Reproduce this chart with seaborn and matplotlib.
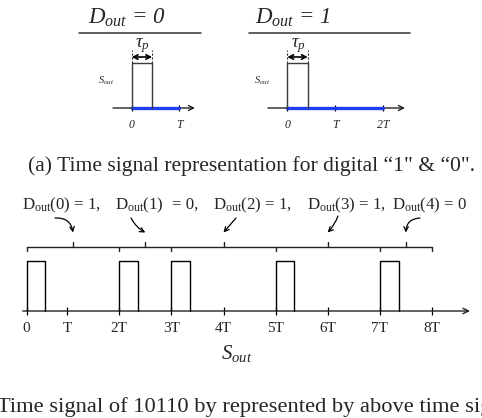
import matplotlib
matplotlib.use('Agg')
import matplotlib.pyplot as plt
import seaborn as sns
import pandas as pd
from matplotlib.lines import Line2D

# ---------------- data ----------------
bits = [1, 0, 1, 1, 0]
pulse_starts = [0.22, 2, 3, 5, 7]            # pulse start times (units of T)
bit_bounds = [0.22, 2, 3, 5, 7, 8]           # bracket boundaries of each bit
pulse_width = 0.36                           # tau_p / T (bottom)
tick_pos = [0.22, 1, 2, 3, 4, 5, 6, 7, 8]
tick_labels = ['0', 'T', '2T', '3T', '4T', '5T', '6T', '7T', '8T']
bit_texts = [r'D$_{\mathrm{out}}$(0) = 1,', r'D$_{\mathrm{out}}$(1)', '= 0,',
             r'D$_{\mathrm{out}}$(2) = 1,', r'D$_{\mathrm{out}}$(3) = 1,',
             r'D$_{\mathrm{out}}$(4) = 0']

top_titles = [r'D$_{out}$ = 0', r'D$_{out}$ = 1']
top_periods = [1, 2]
top_pulse_width = 0.43
top_ticks = [[0, 1], [0, 1, 2]]
top_tick_labels = [['0', 'T'], ['0', 'T', '2T']]

caption_a = '(a) Time signal representation for digital \u201c1" & \u201c0".'
caption_b = 'Time signal of 10110 by represented by above time signal.'

# ---------------- style ----------------
sns.set_theme(style='white')
plt.rcParams['font.family'] = ['Liberation Serif', 'DejaVu Serif']
plt.rcParams['mathtext.fontset'] = 'custom'
plt.rcParams['mathtext.rm'] = 'Liberation Serif'
plt.rcParams['mathtext.it'] = 'Liberation Serif:italic'
plt.rcParams['mathtext.bf'] = 'Liberation Serif:bold'

W, H, DPI = 482, 418, 100
fig = plt.figure(figsize=(W / DPI, H / DPI), dpi=DPI)
fig.patch.set_facecolor('white')


def frect(x0, y0, x1, y1):
    return [x0 / W, 1 - y1 / H, (x1 - x0) / W, (y1 - y0) / H]


def fxy(px, py):
    return px / W, 1 - py / H


def pulse_frame(starts, width):
    rows = []
    for i, s in enumerate(starts):
        for x, y in [(s, 0), (s, 1), (s + width, 1), (s + width, 0)]:
            rows.append({'pulse': i, 'x': x, 'y': y})
    return pd.DataFrame(rows)


def clean(ax):
    for sp in ax.spines.values():
        sp.set_visible(False)
    ax.set_facecolor('none')
    ax.set_yticks([])
    ax.set_ylabel('')
    ax.set_xlabel('')


# ---------------- top panels ----------------
top_geo = [
    dict(rect=(95, 35, 210, 135), x0=131.7, u=47.6, axis_y=108, v=45,
         ax_from=113, ax_to=195, title_x=88, ul=(79, 201), sout_x=106),
    dict(rect=(250, 35, 420, 135), x0=287.3, u=47.7, axis_y=108, v=45,
         ax_from=268, ax_to=405, title_x=255, ul=(249, 410), sout_x=262),
]

for k, g in enumerate(top_geo):
    x0p, y0p, x1p, y1p = g['rect']
    ax = fig.add_axes(frect(*g['rect']))
    ax.set_xlim((x0p - g['x0']) / g['u'], (x1p - g['x0']) / g['u'])
    ax.set_ylim(-(y1p - g['axis_y']) / g['v'], (g['axis_y'] - y0p) / g['v'])
    # blue period line
    bl = pd.DataFrame({'x': [0, top_periods[k]], 'y': [0, 0]})
    sns.lineplot(data=bl, x='x', y='y', ax=ax, color='#1f3df0', lw=2.4,
                 estimator=None, sort=False, zorder=3)
    # axis with arrow
    ax.annotate('', xy=((g['ax_to'] - g['x0']) / g['u'], 0),
                xytext=((g['ax_from'] - g['x0']) / g['u'], 0),
                arrowprops=dict(arrowstyle='->', lw=1.0, color='#222222',
                                shrinkA=0, shrinkB=0,
                                mutation_scale=9), zorder=2)
    # pulse
    pf = pulse_frame([0], top_pulse_width)
    sns.lineplot(data=pf, x='x', y='y', units='pulse', estimator=None,
                 sort=False, ax=ax, color='#3a3a3a', lw=1.0, zorder=4)
    # tau_p marker
    ytau = (g['axis_y'] - 57) / g['v']
    ytop = (g['axis_y'] - 50) / g['v']
    for xe in [0, top_pulse_width]:
        ax.plot([xe, xe], [1, ytop], ls=(0, (2, 1.5)), color='#333333', lw=0.8)
    ax.annotate('', xy=(top_pulse_width, ytau), xytext=(0, ytau),
                arrowprops=dict(arrowstyle='<->', lw=1.2, color='black',
                                shrinkA=0, shrinkB=0, mutation_scale=8))
    ax.text(top_pulse_width / 2 + 0.02, (g['axis_y'] - 46) / g['v'], r'$\tau_p$',
            ha='center', va='center', fontsize=13.5)
    ax.text((g['sout_x'] - g['x0']) / g['u'], (g['axis_y'] - 81) / g['v'],
            r'$S_{out}$', ha='center', va='center', fontsize=7.5)
    clean(ax)
    ax.spines['bottom'].set_position(('data', 0))
    ax.set_xticks(top_ticks[k], top_tick_labels[k])
    for lab in ax.get_xticklabels():
        lab.set_fontstyle('italic')
    ax.tick_params(axis='x', direction='inout', length=4.5, width=0.9,
                   color='black', labelsize=8.5, pad=5.5, bottom=True)
    # title and underline
    tx, ty = fxy(g['title_x'], 18)
    fig.text(tx, ty, top_titles[k], ha='left', va='center', fontsize=16.5,
             fontstyle='italic')
    ux0, uy = fxy(g['ul'][0], 33)
    ux1, _ = fxy(g['ul'][1], 33)
    fig.add_artist(Line2D([ux0, ux1], [uy, uy], color='#333333', lw=1.1))

# caption (a)
cx, cy = fxy(28, 166)
fig.text(cx, cy, caption_a, ha='left', va='center', fontsize=15.6)

# ---------------- bottom sequence ----------------
BX0, BU = 15.1, 52.1          # px of t=0 and px per T
AXY, BV = 311, 50             # px of axis and px per unit height
brect = (0, 190, 482, 340)
axb = fig.add_axes(frect(*brect))
axb.set_xlim((brect[0] - BX0) / BU, (brect[2] - BX0) / BU)
axb.set_ylim(-(brect[3] - AXY) / BV, (AXY - brect[1]) / BV)

pf = pulse_frame(pulse_starts, pulse_width)
sns.lineplot(data=pf, x='x', y='y', units='pulse', estimator=None, sort=False,
             ax=axb, color='black', lw=1.0, zorder=4)

axb.annotate('', xy=((470 - BX0) / BU, 0), xytext=((22.7 - BX0) / BU, 0),
             arrowprops=dict(arrowstyle='->', lw=1.0, color='#222222',
                             shrinkA=0, shrinkB=0, mutation_scale=10))

# brackets
yb = (AXY - 247) / BV
yb_dn = (AXY - 251) / BV
yb_up = (AXY - 242) / BV
axb.plot([bit_bounds[0], bit_bounds[-1]], [yb, yb], color='#222222', lw=1.0)
for b in bit_bounds:
    axb.plot([b, b], [yb, yb_dn], color='#222222', lw=1.0)
mids = [(a + b) / 2 for a, b in zip(bit_bounds[:-1], bit_bounds[1:])]
for m in mids:
    axb.plot([m, m], [yb, yb_up], color='#222222', lw=1.0)

# curved arrows from labels to the bit centres
y_tip = (AXY - 232.5) / BV
arrow_starts = [(55, 218, -0.45), (131, 218, 0.15), (236, 218, 0.0),
                (338, 216, -0.1), (420, 218, 0.45)]
for m, (sx, sy, rad) in zip(mids, arrow_starts):
    axb.annotate('', xy=(m, y_tip), xytext=((sx - BX0) / BU, (AXY - sy) / BV),
                 arrowprops=dict(arrowstyle='->', lw=0.9, color='black',
                                 shrinkA=0, shrinkB=0, mutation_scale=8,
                                 connectionstyle=f'arc3,rad={rad}'))

clean(axb)
axb.spines['bottom'].set_position(('data', 0))
axb.set_xticks(tick_pos, tick_labels)
axb.tick_params(axis='x', direction='inout', length=6, width=0.9,
                color='black', labelsize=11, pad=5.0, bottom=True)

# label row
label_x = [21.7, 115, 172.5, 213, 306.7, 391.7]
for x, t in zip(label_x, bit_texts):
    px, py = fxy(x, 205)
    fig.text(px, py, t, ha='left', va='center', fontsize=12.2)

sx, sy = fxy(237, 353)
fig.text(sx, sy, r'$S_{out}$', ha='center', va='center', fontsize=15)

bx, by = fxy(-3.0, 407)
fig.text(bx, by, caption_b, ha='left', va='center', fontsize=16.2)

fig.savefig('out.png', dpi=DPI, facecolor='white')
